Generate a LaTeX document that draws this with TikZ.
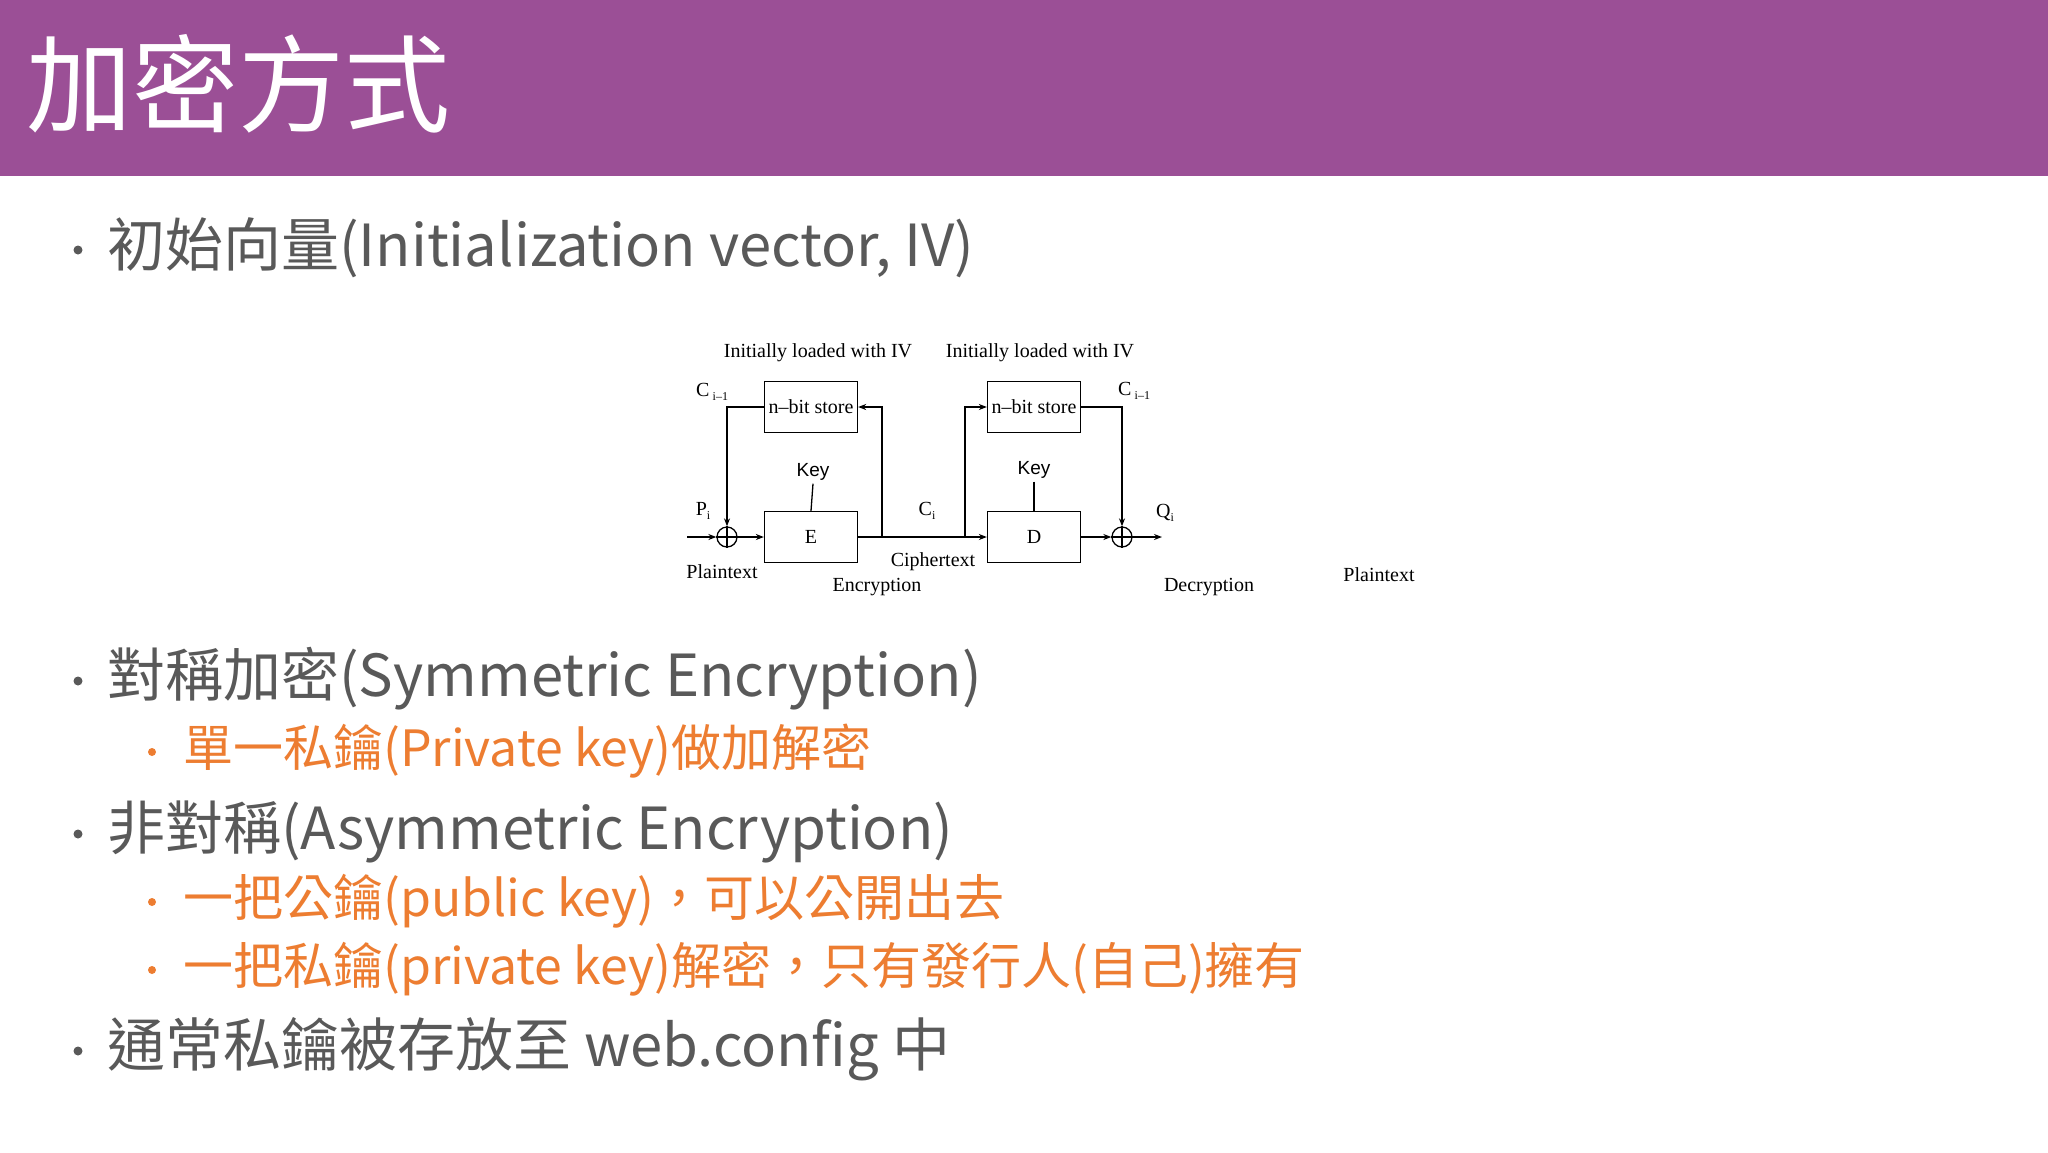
\documentclass[tikz,border=0pt]{standalone}
\usepackage{fontspec}
\setmainfont{Liberation Serif}
\newfontfamily\cjk{Noto Sans CJK TC}
\newfontfamily\sans{Liberation Sans}
\usetikzlibrary{arrows.meta}
\definecolor{hdr}{HTML}{9B4F96}
\definecolor{txt}{HTML}{595959}
\definecolor{org}{HTML}{ED7D31}
\newcommand{\sbs}[1]{\raisebox{-4pt}{\fontsize{12}{13}\selectfont #1}}
\begin{document}
\begin{tikzpicture}[x=1pt,y=-1pt,
  main/.style={font=\cjk\fontsize{58}{60}\selectfont,text=txt,anchor=west,inner sep=0},
  sub/.style={font=\cjk\fontsize{50}{52}\selectfont,text=org,anchor=west,inner sep=0},
  dot/.style={circle,fill=txt,inner sep=0,minimum size=9pt},
  odot/.style={circle,fill=org,inner sep=0,minimum size=8pt},
  blk/.style={draw,line width=1.3pt,minimum width=93pt,minimum height=51pt,inner sep=0,font=\fontsize{20}{22}\selectfont},
  lbl/.style={font=\fontsize{20}{22}\selectfont,inner sep=0},
  ln/.style={line width=1.3pt},
  arr/.style={ln,-{Stealth[length=8pt,width=6pt]}},
  xr/.style={draw,circle,line width=1.3pt,minimum size=20pt,inner sep=0}]
\useasboundingbox (0,0) rectangle (2048,1152);
\fill[white] (0,0) rectangle (2048,1152);
\fill[hdr] (0,0) rectangle (2048,176);
\node[font=\cjk\fontsize{106}{110}\selectfont,text=white,anchor=west,inner sep=0] (title) at (26,84) {加密方式};
% bullets
\node[dot] (d1) at (78,250) {}; \node[main] (t1) at (107,248) {初始向量(Initialization vector, IV)};
\node[dot] (d2) at (78,681) {}; \node[main] (t2) at (107,679) {對稱加密(Symmetric Encryption)};
\node[odot] (d3) at (152,752) {}; \node[sub] (t3) at (183,751) {單一私鑰(Private key)做加解密};
\node[dot] (d4) at (78,834) {}; \node[main] (t4) at (107,832) {非對稱(Asymmetric Encryption)};
\node[odot] (d5) at (152,902) {}; \node[sub] (t5) at (183,901) {一把公鑰(public key)，可以公開出去};
\node[odot] (d6) at (152,970) {}; \node[sub] (t6) at (183,969) {一把私鑰(private key)解密，只有發行人(自己)擁有};
\node[dot] (d7) at (78,1051) {}; \node[main] (t7) at (107,1049) {通常私鑰被存放至 web.config 中};
% diagram
\node[blk] (s1) at (811,407) {n--bit store};
\node[blk] (E) at (811,537) {E};
\node[blk] (s2) at (1034,407) {n--bit store};
\node[blk] (D) at (1034,537) {D};
\node[xr] (x1) at (727,537) {};
\node[xr] (x2) at (1122,537) {};
\draw[ln] (x1.north) -- (x1.south) (x1.west) -- (x1.east);
\draw[ln] (x2.north) -- (x2.south) (x2.west) -- (x2.east);
\coordinate (in) at (687,537);
\coordinate (out) at (1162,537);
\coordinate (j1) at (882,537);
\coordinate (j2) at (965,537);
\draw[arr] (in) -- (x1);
\draw[arr] (x1) -- (E);
\draw[ln] (E) -- (j1);
\draw[arr] (j1) -- (D);
\draw[arr] (j1) |- (s1.east);
\draw[arr] (j2) |- (s2.west);
\draw[arr] (s1.west) -| (x1.north);
\draw[arr] (s2.east) -| (x2.north);
\draw[arr] (D) -- (x2);
\draw[arr] (x2) -- (out);
\node[lbl,font=\sans\fontsize{19}{21}\selectfont] (k1) at (813,472) {Key};
\node[lbl,font=\sans\fontsize{19}{21}\selectfont] (k2) at (1034,470) {Key};
\draw[ln] (k1.south) ++(0,3) -- (E.north);
\draw[ln] (k2.south) ++(0,3) -- (D.north);
\node[lbl] (iv1) at (818,353) {Initially loaded with IV};
\node[lbl] (iv2) at (1040,353) {Initially loaded with IV};
\node[lbl] (c1) at (712,392) {C\,\sbs{i--1}};
\node[lbl] (c2) at (1134,391) {C\,\sbs{i--1}};
\node[lbl] (p) at (703,511) {P\sbs{i}};
\node[lbl] (q) at (1165,513) {Q\sbs{i}};
\node[lbl] (ci) at (1035,511) {};
\node[lbl] (cit) at (927,511) {C\sbs{i}};
\node[lbl] (pt1) at (722,572) {Plaintext};
\node[lbl] (ctx) at (1043,561) {};
\node[lbl] (ctext) at (1043,561) {};
\node[lbl] (ciphertext) at (1043,561) {};
\node[lbl] (ct2) at (1043,561) {};
\node[lbl] (cipher) at (1043,561) {};
\node[lbl] (cph) at (933,562) {Ciphertext};
\node[lbl] (enc) at (877,587) {Encryption};
\node[lbl] (dec) at (1209,587) {Decryption};
\node[lbl] (pt2) at (1379,575) {Plaintext};
\end{tikzpicture}
\end{document}
